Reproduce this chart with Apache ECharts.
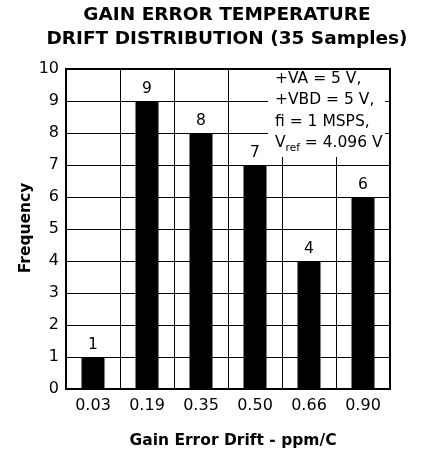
<!DOCTYPE html>
<html><head><meta charset="utf-8">
<script src="https://cdn.jsdelivr.net/npm/echarts@6/dist/echarts.min.js"></script>
<style>html,body{margin:0;padding:0;background:#fff}#c{width:423px;height:454px}</style>
</head><body><div id="c"></div>
<script>
const categories = ['0.03','0.19','0.35','0.50','0.66','0.90'];
const frequency = [1, 9, 8, 7, 4, 6];
const yTicks = [0,1,2,3,4,5,6,7,8,9,10];
const titleLines = ['GAIN ERROR TEMPERATURE', 'DRIFT DISTRIBUTION (35 Samples)'];
const yName = 'Frequency';
const FONT = '"DejaVu Sans", Arial, Helvetica, sans-serif';
const chart = echarts.init(document.getElementById('c'));
chart.setOption({
  animation: false,
  backgroundColor: '#fff',
  textStyle: { fontFamily: FONT },
  grid: { left: 66, right: 33, top: 69, bottom: 61, show: true, borderColor: '#000', borderWidth: 2, backgroundColor: 'transparent' },
  xAxis: {
    type: 'category', data: categories, boundaryGap: true,
    name: 'Gain Error Drift - ppm/C', nameLocation: 'middle', nameGap: 44,
    nameTextStyle: { fontFamily: FONT, fontSize: 15.5, fontWeight: 'bold', color: '#000', padding: [0, 0, 0, 10] },
    axisLine: { show: true, lineStyle: { color: '#000', width: 2 } },
    axisTick: { show: false },
    axisLabel: { color: '#000', fontSize: 16, fontFamily: FONT, margin: 9 },
    splitLine: { show: true, lineStyle: { color: '#000', width: 1 } }
  },
  yAxis: {
    type: 'value', min: yTicks[0], max: yTicks[yTicks.length-1], interval: 1,
    axisLine: { show: true, lineStyle: { color: '#000', width: 2 } },
    axisTick: { show: false },
    axisLabel: { color: '#000', fontSize: 16, fontFamily: FONT, margin: 7 },
    splitLine: { show: true, lineStyle: { color: '#000', width: 1 } }
  },
  series: [{
    type: 'bar', data: frequency, barWidth: 23,
    itemStyle: { color: '#000' },
    label: { show: true, position: 'top', distance: 4, color: '#000', fontSize: 15.5, fontFamily: FONT }
  }],
  graphic: [
    { type: 'text', z: 101, x: 227, y: 15.5, style: {
        text: titleLines[0], font: 'bold 18.5px ' + FONT, fill: '#000', textAlign: 'center', textVerticalAlign: 'middle' } },
    { type: 'text', z: 101, x: 227, y: 39, style: {
        text: titleLines[1], font: 'bold 18.5px ' + FONT, fill: '#000', textAlign: 'center', textVerticalAlign: 'middle' } },
    { type: 'text', z: 101, x: 26, y: 228, rotation: Math.PI / 2, style: {
        text: yName, font: 'bold 15.5px ' + FONT, fill: '#000', textAlign: 'center', textVerticalAlign: 'middle' } },
    { type: 'rect', z: 100, shape: { x: 268, y: 70, width: 117, height: 87 }, style: { fill: '#fff' } },
    { type: 'text', z: 101, x: 275, y: 68, style: {
        text: '+VA = 5 V,\n+VBD = 5 V,\nfi = 1 MSPS,\n{v|V}{s|ref}{v| = 4.096 V}',
        font: '15.5px ' + FONT, fill: '#000', lineHeight: 21.5,
        rich: { v: { fontSize: 15.5, fontFamily: FONT, lineHeight: 21.5 }, s: { fontSize: 10.5, fontFamily: FONT, verticalAlign: 'bottom', padding: [6,0,0,0], lineHeight: 21.5 } }
    } }
  ]
});
</script></body></html>
